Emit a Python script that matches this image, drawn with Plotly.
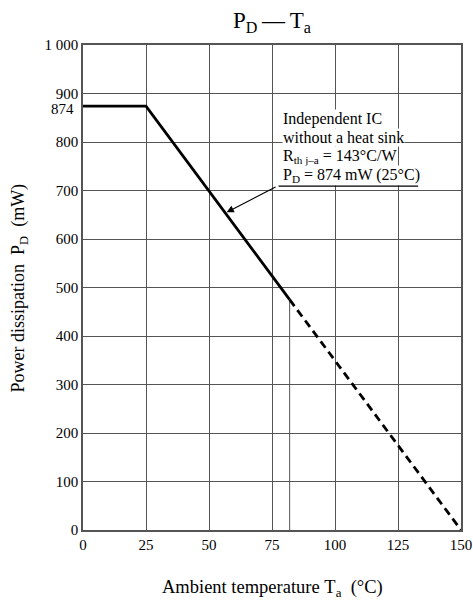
import plotly.graph_objects as go

# Data
T_solid = [0, 25, 82]
P_solid = [874, 874, 475]
T_dash = [82, 150]
P_dash = [475, 0]
T_marker = [82, 82]
P_marker = [0, 475]

x_ticks = [0, 25, 50, 75, 100, 125, 150]
x_ticklabels = ["0", "25", "50", "75", "100", "125", "150"]
y_ticks = [0, 100, 200, 300, 400, 500, 600, 700, 800, 900, 1000]
y_ticklabels = ["0", "100", "200", "300", "400", "500", "600", "700", "800", "900", "1 000"]
P_rated = 874

note_lines = [
    "Independent IC",
    "without a heat sink",
    "R<sub>th j\u2013a</sub> = 143°C/W",
    "P<sub>D</sub> = 874 mW (25°C)",
]
note_y = [847, 809, 770, 731]

FONT = "Liberation Serif, Times New Roman, serif"
GRID = "#555555"
NB = "\u00a0"

fig = go.Figure()
fig.add_trace(go.Scatter(x=T_marker, y=P_marker, mode="lines",
                         line=dict(color=GRID, width=1), showlegend=False, hoverinfo="skip"))
fig.add_trace(go.Scatter(x=T_solid, y=P_solid, mode="lines",
                         line=dict(color="black", width=2.8), showlegend=False))
fig.add_trace(go.Scatter(x=T_dash, y=P_dash, mode="lines",
                         line=dict(color="black", width=2.8, dash="8px,5px"), showlegend=False))

# note text, one line per annotation (each with a white background)
for txt, yy in zip(note_lines, note_y):
    fig.add_annotation(x=78.8, y=yy, xref="x", yref="y", xanchor="left", yanchor="middle",
                       text=txt, showarrow=False, align="left",
                       bgcolor="white", borderpad=0,
                       font=dict(family=FONT, size=16, color="black"))
# underline of the note
fig.add_annotation(x=133, y=709, ax=77, ay=709, axref="x", ayref="y", xref="x", yref="y",
                   text="", showarrow=True, arrowhead=0, arrowwidth=1.2, arrowcolor="black")
# arrow
fig.add_annotation(x=57, y=655, ax=77, ay=709, axref="x", ayref="y", xref="x", yref="y",
                   text="", showarrow=True, arrowhead=2, arrowsize=1.2, arrowwidth=1.2,
                   arrowcolor="black")
# 874 tick label
fig.add_annotation(x=0, y=P_rated, xref="paper", yref="y", xanchor="right", yanchor="middle",
                   xshift=-7, yshift=-3, text=str(P_rated), showarrow=False,
                   font=dict(family=FONT, size=15, color="black"))
# axis titles
fig.add_annotation(x=-0.1667, y=0.5, xref="paper", yref="paper", xanchor="center", yanchor="middle",
                   textangle=-90, showarrow=False,
                   text=f"Power dissipation{NB*2}P<sub>D</sub>{NB*2}(mW)",
                   font=dict(family=FONT, size=18, color="black"))
fig.add_annotation(x=0.5, y=-0.1196, xref="paper", yref="paper", xanchor="center", yanchor="middle",
                   showarrow=False,
                   text=f"Ambient temperature{NB}T<sub>a</sub>{NB*2}(°C)",
                   font=dict(family=FONT, size=18.5, color="black"))
# title
fig.add_annotation(x=0.5, y=1.047, xref="paper", yref="paper", xanchor="center", yanchor="middle",
                   showarrow=False, text="P<sub>D</sub>\u2009\u2014\u2009T<sub>a</sub>",
                   font=dict(family=FONT, size=23, color="black"))

fig.update_layout(
    width=473, height=602,
    margin=dict(l=83, r=12, t=45, b=72, autoexpand=False),
    paper_bgcolor="white", plot_bgcolor="white",
    font=dict(family=FONT, size=15, color="black"),
    showlegend=False,
)
fig.update_xaxes(range=[0, 150], tickvals=x_ticks, ticktext=x_ticklabels,
                 showgrid=True, gridcolor=GRID, gridwidth=1, zeroline=False,
                 showline=True, linecolor=GRID, linewidth=1.5, mirror=True,
                 ticks="", tickfont=dict(family=FONT, size=15), automargin=False)
fig.update_yaxes(range=[0, 1000], tickvals=y_ticks, ticktext=y_ticklabels,
                 showgrid=True, gridcolor=GRID, gridwidth=1, zeroline=False,
                 showline=True, linecolor=GRID, linewidth=1.5, mirror=True,
                 ticks="", tickfont=dict(family=FONT, size=15), automargin=False)

fig.write_html("out.html", config={"displayModeBar": False},
               post_script="document.body.style.margin='0px';document.documentElement.style.overflow='hidden';")
